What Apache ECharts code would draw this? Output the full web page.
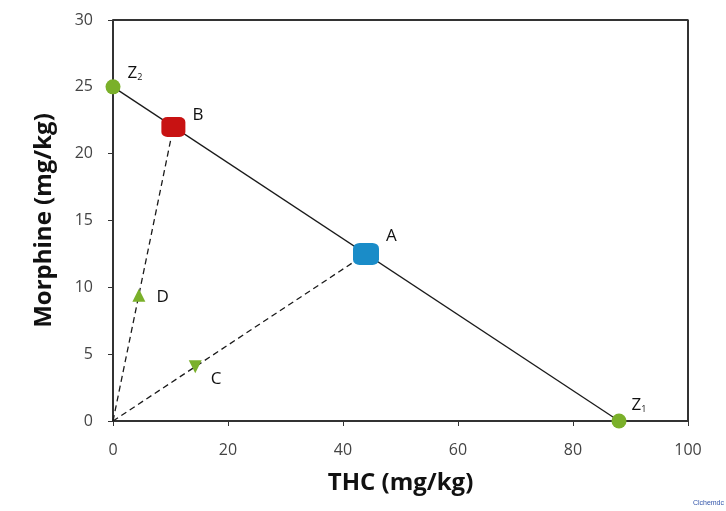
<!DOCTYPE html>
<html>
<head>
<meta charset="utf-8">
<script src="https://cdn.jsdelivr.net/npm/echarts@6/dist/echarts.min.js"></script>
<style>html,body{margin:0;padding:0;background:#fff}#c{width:726px;height:511px}</style>
</head>
<body>
<div id="c"></div>
<script>
const endpoints = [[0, 25], [88, 0]];          // Z2, Z1 isobole
const pointB = [10.5, 22];
const pointA = [44, 12.5];
const pointD = [4.5, 9.4];
const pointC = [14.3, 4.05];
const origin = [0, 0];
const xTicks = [0, 20, 40, 60, 80, 100];
const yTicks = [0, 5, 10, 15, 20, 25, 30];

const chart = echarts.init(document.getElementById('c'));
const green = '#7ab02a';
const lblStyle = {fontFamily: 'Open Sans', fontSize: 17, color: '#111'};
const subRich = {s: {fontSize: 9, verticalAlign: 'bottom', padding: [9, 0, 0, 0], color: '#111'}};
chart.setOption({
  animation: false,
  grid: {left: 113, right: 38, top: 20, bottom: 90},
  xAxis: {
    type: 'value', min: 0, max: 100, interval: 20,
    name: 'THC (mg/kg)', nameLocation: 'middle', nameGap: 50,
    nameTextStyle: {fontFamily: 'Open Sans', fontWeight: 'bold', fontSize: 24, color: '#111'},
    axisLine: {show: true, lineStyle: {color: '#333', width: 2}},
    axisTick: {show: true, length: 5, lineStyle: {color: '#333'}},
    axisLabel: {fontFamily: 'Open Sans', fontSize: 16, color: '#444', margin: 21},
    splitLine: {show: false}
  },
  yAxis: {
    type: 'value', min: 0, max: 30, interval: 5,
    name: 'Morphine (mg/kg)', nameLocation: 'middle', nameGap: 57,
    nameTextStyle: {fontFamily: 'Open Sans', fontWeight: 'bold', fontSize: 24, color: '#111'},
    axisLine: {show: true, lineStyle: {color: '#333', width: 2}},
    axisTick: {show: true, length: 5, lineStyle: {color: '#333'}},
    axisLabel: {fontFamily: 'Open Sans', fontSize: 16, color: '#444', margin: 20},
    splitLine: {show: false}
  },
  graphic: [
    {type: 'text', right: 2, bottom: 4, style: {text: 'Clchemdc', fontSize: 7, fill: '#3355aa', fontFamily: 'Liberation Sans'}}
  ],
  series: [
    {type: 'line', z: 1, data: [[0, 30], [100, 30], [100, 0]], symbol: 'none', silent: true,
     lineStyle: {color: '#333', width: 2}},
    {type: 'line', z: 1, data: endpoints, symbol: 'none', lineStyle: {color: '#1a1a1a', width: 1.3}},
    {type: 'line', z: 1, data: [origin, pointB], symbol: 'none', lineStyle: {color: '#1a1a1a', width: 1.3, type: [6, 4]}},
    {type: 'line', z: 1, data: [origin, pointA], symbol: 'none', lineStyle: {color: '#1a1a1a', width: 1.3, type: [6, 4]}},
    {type: 'scatter', z: 5, clip: false, symbol: 'circle', symbolSize: 15,
     itemStyle: {color: green, opacity: 1},
     data: [
       {value: endpoints[0], label: {show: true, position: 'right', offset: [2, -14], formatter: 'Z{s|2}', ...lblStyle, rich: subRich}},
       {value: endpoints[1], label: {show: true, position: 'right', offset: [0, -16], formatter: 'Z{s|1}', ...lblStyle, rich: subRich}}
     ]},
    {type: 'scatter', z: 5, clip: false, symbol: 'roundRect', symbolSize: [24, 20],
     itemStyle: {color: '#c81212', opacity: 1},
     data: [{value: pointB, label: {show: true, formatter: 'B', position: 'right', offset: [2, -12], ...lblStyle}}]},
    {type: 'scatter', z: 5, clip: false, symbol: 'roundRect', symbolSize: [26, 22],
     itemStyle: {color: '#1a8cc8', opacity: 1},
     data: [{value: pointA, label: {show: true, formatter: 'A', position: 'right', offset: [2, -18], ...lblStyle}}]},
    {type: 'scatter', z: 5, clip: false, symbol: 'triangle', symbolSize: 13,
     itemStyle: {color: green, opacity: 1},
     data: [{value: pointD, label: {show: true, formatter: 'D', position: 'right', offset: [6, 2], ...lblStyle}}]},
    {type: 'scatter', z: 5, clip: false, symbol: 'triangle', symbolRotate: 180, symbolSize: 13,
     itemStyle: {color: green, opacity: 1},
     data: [{value: pointC, label: {show: true, formatter: 'C', position: 'right', offset: [4, 12], ...lblStyle}}]}
  ]
});
</script>
</body>
</html>
